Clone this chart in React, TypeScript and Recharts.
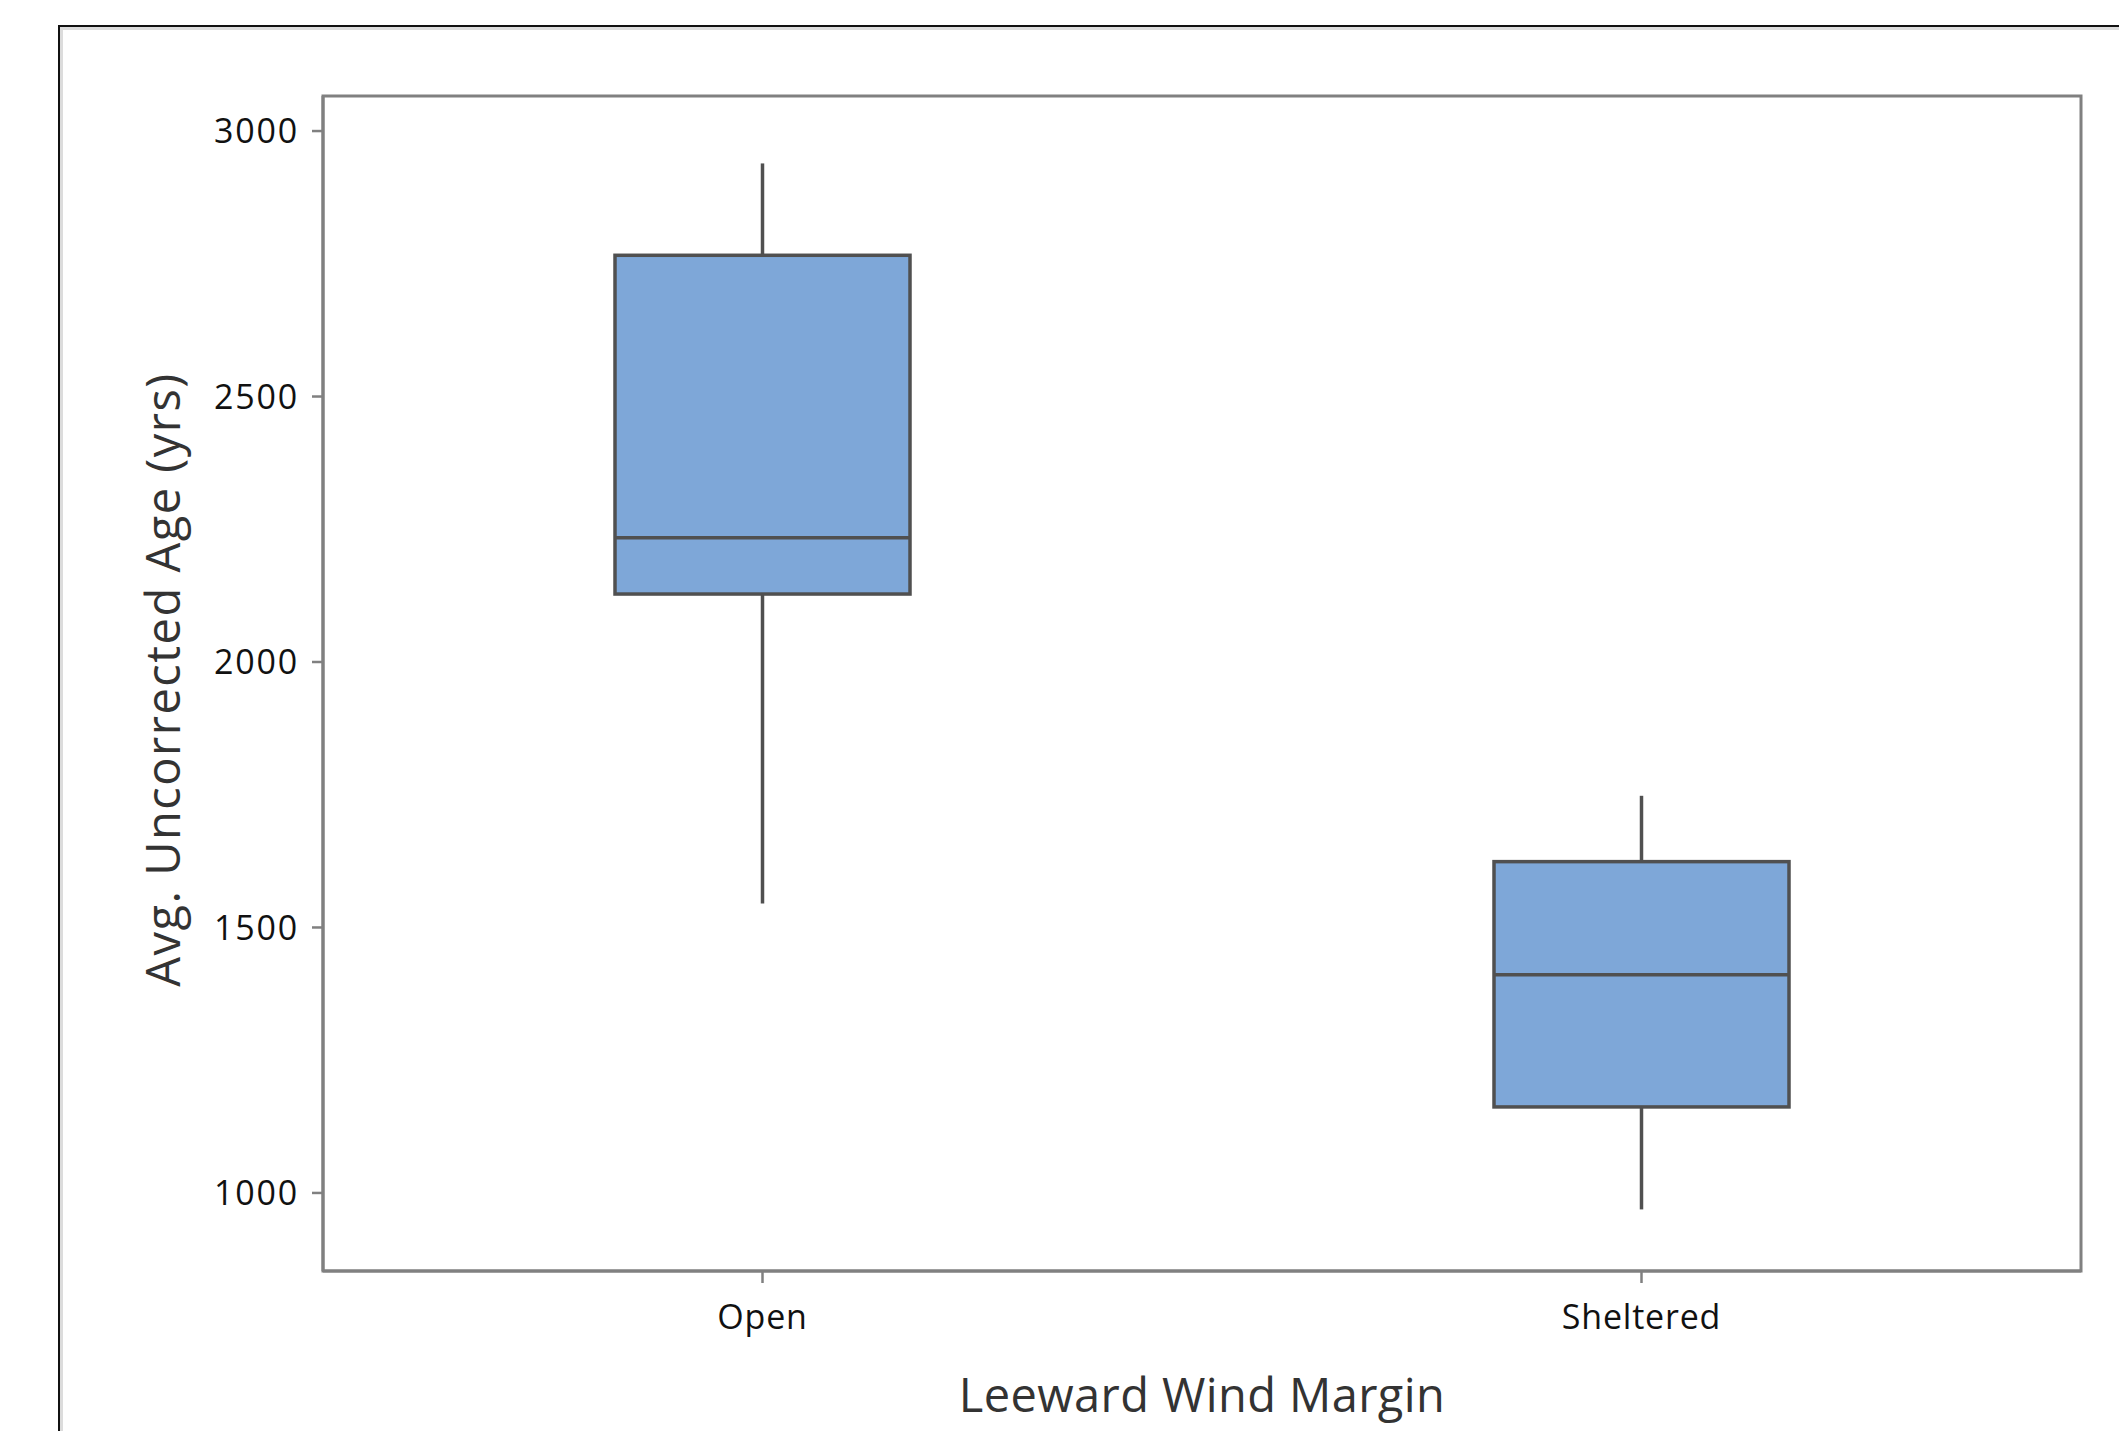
import { Bar, ComposedChart, ReferenceArea, XAxis, YAxis } from "recharts";

const categories = ["Open", "Sheltered"];
const whiskerLow = [1545, 969];
const q1 = [2128, 1162];
const median = [2234, 1411];
const q3 = [2766, 1624];
const whiskerHigh = [2939, 1748];
const yTicks = [1000, 1500, 2000, 2500, 3000];
const yDomain = [853, 3066];

const data = categories.map((name, i) => ({
  name,
  range: [whiskerLow[i], whiskerHigh[i]],
  q1: q1[i],
  median: median[i],
  q3: q3[i],
}));

const FONT = "'Open Sans', 'Noto Sans', sans-serif";
const FRAME = "#808080";
const EDGE = "#505050";

function BoxShape(props: any) {
  const { x, y, width, height, payload } = props;
  if (x == null || y == null) return null;
  const top = Math.min(y, y + height);
  const h = Math.abs(height);
  const [lo, hi] = payload.range;
  // map a value onto the pixel span the bar got from the y scale
  const py = (v: number) => top + ((hi - v) / (hi - lo)) * h;
  const cx = x + width / 2;
  return (
    <g>
      <line x1={cx} x2={cx} y1={py(hi)} y2={py(payload.q3)} stroke={EDGE} strokeWidth={3.5} />
      <line x1={cx} x2={cx} y1={py(payload.q1)} y2={py(lo)} stroke={EDGE} strokeWidth={3.5} />
      <rect
        x={x}
        y={py(payload.q3)}
        width={width}
        height={py(payload.q1) - py(payload.q3)}
        fill="#7ea7d8"
        stroke={EDGE}
        strokeWidth={3.5}
      />
      <line x1={x} x2={x + width} y1={py(payload.median)} y2={py(payload.median)} stroke={EDGE} strokeWidth={3.5} />
    </g>
  );
}

export default function App() {
  return (
    <div
      style={{
        position: "fixed",
        left: 0,
        top: 0,
        width: 2119,
        height: 1431,
        overflow: "hidden",
        background: "#fff",
      }}
    >
      <div
        style={{
          position: "absolute",
          left: 58,
          top: 25,
          width: 2200,
          height: 1500,
          borderLeft: "2px solid #111",
          borderTop: "2px solid #111",
        }}
      >
        <div
          style={{
            position: "absolute",
            left: 0,
            top: 0,
            right: 0,
            bottom: 0,
            borderLeft: "3px solid #dcdcdc",
            borderTop: "3px solid #dcdcdc",
          }}
        />
      </div>
      <div style={{ position: "absolute", left: 0, top: 0 }}>
        <ComposedChart
          width={2119}
          height={1431}
          data={data}
          margin={{ top: 96, right: 38, left: 203, bottom: 0 }}
        >
          <XAxis
            dataKey="name"
            type="category"
            height={160}
            tickSize={12}
            tickMargin={22}
            axisLine={{ stroke: FRAME, strokeWidth: 3 }}
            tickLine={{ stroke: FRAME, strokeWidth: 2.5 }}
            tick={{ fontSize: 34, fill: "#111", fontFamily: FONT, letterSpacing: 0.8 }}
            label={{
              content: (p: any) => {
                const vb = p.viewBox || {};
                return (
                  <text
                    x={vb.x + vb.width / 2}
                    y={vb.y + 141}
                    textAnchor="middle"
                    fontSize={47}
                    fill="#333"
                    fontFamily={FONT}
                    letterSpacing={0.4}
                  >
                    Leeward Wind Margin
                  </text>
                );
              },
            }}
          />
          <YAxis
            type="number"
            domain={yDomain}
            ticks={yTicks}
            allowDataOverflow
            width={120}
            tickSize={11}
            tickMargin={13}
            axisLine={{ stroke: FRAME, strokeWidth: 3 }}
            tickLine={{ stroke: FRAME, strokeWidth: 2.5 }}
            tick={{ fontSize: 34, fill: "#111", fontFamily: FONT, letterSpacing: 1.8 }}
            label={{
              content: (p: any) => {
                const vb = p.viewBox || {};
                const cx = vb.x - 23;
                const cy = vb.y + vb.height / 2 - 4;
                return (
                  <text
                    x={cx}
                    y={cy}
                    transform={`rotate(-90, ${cx}, ${cy})`}
                    textAnchor="middle"
                    fontSize={47}
                    fill="#333"
                    fontFamily={FONT}
                    letterSpacing={1.5}
                  >
                    Avg. Uncorrected Age (yrs)
                  </text>
                );
              },
            }}
          />
          {/* plot frame: full-width area over the whole y domain */}
          <ReferenceArea
            y1={yDomain[0]}
            y2={yDomain[1]}
            fill="none"
            stroke={FRAME}
            strokeWidth={3}
            ifOverflow="extendDomain"
          />
          <Bar
            dataKey="range"
            barSize={295}
            shape={(p: any) => <BoxShape {...p} />}
            isAnimationActive={false}
          />
        </ComposedChart>
      </div>
    </div>
  );
}
